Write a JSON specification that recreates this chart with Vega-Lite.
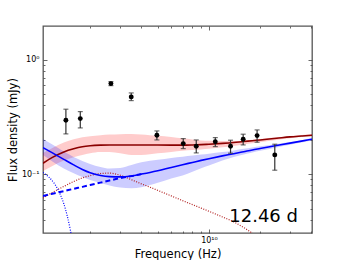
{
  "$schema": "https://vega.github.io/schema/vega-lite/v6.json",
  "width": 269,
  "height": 207,
  "autosize": {"type": "none"},
  "padding": {"left": 43, "top": 26, "right": 34, "bottom": 27},
  "background": "white",
  "config": {
    "view": {"stroke": "#555555", "strokeWidth": 1.3},
    "font": "DejaVu Sans",
    "axis": {"grid": false, "domain": false, "labelFont": "DejaVu Sans", "titleFont": "DejaVu Sans", "labelColor": "black", "titleColor": "black", "tickColor": "#444444", "tickWidth": 0.8, "titleFontWeight": "normal"}
  },
  "datasets": {
    "redBand": [
      {"nu": 1.056e9, "hi": 0.1536, "lo": 0.1069},
      {"nu": 1.2e9, "hi": 0.1698, "lo": 0.1182},
      {"nu": 1.4e9, "hi": 0.1897, "lo": 0.1321},
      {"nu": 1.6e9, "hi": 0.2024, "lo": 0.1409},
      {"nu": 1.8e9, "hi": 0.2108, "lo": 0.1475},
      {"nu": 2.0e9, "hi": 0.2151, "lo": 0.1527},
      {"nu": 2.3e9, "hi": 0.2194, "lo": 0.1567},
      {"nu": 2.6e9, "hi": 0.2221, "lo": 0.1561},
      {"nu": 3.0e9, "hi": 0.2239, "lo": 0.1527},
      {"nu": 3.5e9, "hi": 0.2253, "lo": 0.1475},
      {"nu": 4.0e9, "hi": 0.2221, "lo": 0.1475},
      {"nu": 4.5e9, "hi": 0.2194, "lo": 0.1497},
      {"nu": 5.0e9, "hi": 0.2172, "lo": 0.1524},
      {"nu": 6.0e9, "hi": 0.2120, "lo": 0.1567},
      {"nu": 7.0e9, "hi": 0.2065, "lo": 0.1606},
      {"nu": 8.0e9, "hi": 0.2016, "lo": 0.1625},
      {"nu": 9.0e9, "hi": 0.1975, "lo": 0.1648},
      {"nu": 1.0e10, "hi": 0.1963, "lo": 0.1671},
      {"nu": 1.2e10, "hi": 0.1948, "lo": 0.1722},
      {"nu": 1.4e10, "hi": 0.1948, "lo": 0.1768},
      {"nu": 1.6e10, "hi": 0.1975, "lo": 0.1822},
      {"nu": 1.8e10, "hi": 0.2007, "lo": 0.1863},
      {"nu": 2.0e10, "hi": 0.2036, "lo": 0.1905},
      {"nu": 2.5e10, "hi": 0.2103, "lo": 0.1991},
      {"nu": 3.0e10, "hi": 0.2164, "lo": 0.2061},
      {"nu": 3.5e10, "hi": 0.2207, "lo": 0.2112},
      {"nu": 4.04e10, "hi": 0.2243, "lo": 0.2146}
    ],
    "blueBand": [
      {"nu": 1.056e9, "hi": 0.2036, "lo": 0.1475},
      {"nu": 1.2e9, "hi": 0.1822, "lo": 0.1294},
      {"nu": 1.4e9, "hi": 0.1583, "lo": 0.1124},
      {"nu": 1.6e9, "hi": 0.1417, "lo": 0.1022},
      {"nu": 1.8e9, "hi": 0.1307, "lo": 0.0947},
      {"nu": 2.0e9, "hi": 0.1231, "lo": 0.0891},
      {"nu": 2.3e9, "hi": 0.1159, "lo": 0.0839},
      {"nu": 2.6e9, "hi": 0.1124, "lo": 0.0798},
      {"nu": 3.0e9, "hi": 0.1135, "lo": 0.0766},
      {"nu": 3.5e9, "hi": 0.1206, "lo": 0.0754},
      {"nu": 4.0e9, "hi": 0.1273, "lo": 0.0770},
      {"nu": 4.5e9, "hi": 0.1312, "lo": 0.0806},
      {"nu": 5.0e9, "hi": 0.1339, "lo": 0.0843},
      {"nu": 6.0e9, "hi": 0.1389, "lo": 0.0919},
      {"nu": 7.0e9, "hi": 0.1422, "lo": 0.0976},
      {"nu": 8.0e9, "hi": 0.1457, "lo": 0.1052},
      {"nu": 9.0e9, "hi": 0.1487, "lo": 0.1129},
      {"nu": 1.0e10, "hi": 0.1514, "lo": 0.1194},
      {"nu": 1.2e10, "hi": 0.1561, "lo": 0.1321},
      {"nu": 1.4e10, "hi": 0.1615, "lo": 0.1417},
      {"nu": 1.6e10, "hi": 0.1671, "lo": 0.1490},
      {"nu": 1.8e10, "hi": 0.1715, "lo": 0.1548},
      {"nu": 2.0e10, "hi": 0.1758, "lo": 0.1602},
      {"nu": 2.5e10, "hi": 0.1841, "lo": 0.1715},
      {"nu": 3.0e10, "hi": 0.1916, "lo": 0.1812},
      {"nu": 3.5e10, "hi": 0.1984, "lo": 0.1893},
      {"nu": 4.04e10, "hi": 0.2069, "lo": 0.1980}
    ],
    "redTotal": [
      {"nu": 1.056e9, "flux": 0.1248}, {"nu": 1.2e9, "flux": 0.1403}, {"nu": 1.4e9, "flux": 0.1567},
      {"nu": 1.6e9, "flux": 0.1671}, {"nu": 1.8e9, "flux": 0.1740}, {"nu": 2.0e9, "flux": 0.1775},
      {"nu": 2.3e9, "flux": 0.1797}, {"nu": 2.6e9, "flux": 0.1804}, {"nu": 3.0e9, "flux": 0.1804},
      {"nu": 3.5e9, "flux": 0.1804}, {"nu": 4.0e9, "flux": 0.1804}, {"nu": 4.5e9, "flux": 0.1804},
      {"nu": 5.0e9, "flux": 0.1800}, {"nu": 6.0e9, "flux": 0.1797}, {"nu": 7.0e9, "flux": 0.1797},
      {"nu": 8.0e9, "flux": 0.1804}, {"nu": 9.0e9, "flux": 0.1815}, {"nu": 1.0e10, "flux": 0.1830},
      {"nu": 1.2e10, "flux": 0.1860}, {"nu": 1.4e10, "flux": 0.1893}, {"nu": 1.6e10, "flux": 0.1932},
      {"nu": 1.8e10, "flux": 0.1963}, {"nu": 2.0e10, "flux": 0.1995}, {"nu": 2.5e10, "flux": 0.2061},
      {"nu": 3.0e10, "flux": 0.2120}, {"nu": 3.5e10, "flux": 0.2159}, {"nu": 4.04e10, "flux": 0.2194}
    ],
    "blueTotal": [
      {"nu": 1.056e9, "flux": 0.1709}, {"nu": 1.2e9, "flux": 0.1536}, {"nu": 1.4e9, "flux": 0.1348},
      {"nu": 1.6e9, "flux": 0.1206}, {"nu": 1.8e9, "flux": 0.1101}, {"nu": 2.0e9, "flux": 0.1031},
      {"nu": 2.3e9, "flux": 0.0976}, {"nu": 2.6e9, "flux": 0.0953}, {"nu": 3.0e9, "flux": 0.0947},
      {"nu": 3.5e9, "flux": 0.0966}, {"nu": 4.0e9, "flux": 0.1002}, {"nu": 4.5e9, "flux": 0.1037},
      {"nu": 5.0e9, "flux": 0.1073}, {"nu": 6.0e9, "flux": 0.1147}, {"nu": 7.0e9, "flux": 0.1211},
      {"nu": 8.0e9, "flux": 0.1268}, {"nu": 9.0e9, "flux": 0.1321}, {"nu": 1.0e10, "flux": 0.1367},
      {"nu": 1.2e10, "flux": 0.1446}, {"nu": 1.4e10, "flux": 0.1511}, {"nu": 1.6e10, "flux": 0.1573},
      {"nu": 1.8e10, "flux": 0.1631}, {"nu": 2.0e10, "flux": 0.1678}, {"nu": 2.5e10, "flux": 0.1782},
      {"nu": 3.0e10, "flux": 0.1871}, {"nu": 3.5e10, "flux": 0.1948}, {"nu": 4.04e10, "flux": 0.2024}
    ],
    "blueDashed": [
      {"nu": 1.056e9, "flux": 0.0646}, {"nu": 1.2e9, "flux": 0.0675}, {"nu": 1.4e9, "flux": 0.0711},
      {"nu": 1.6e9, "flux": 0.0745}, {"nu": 1.8e9, "flux": 0.0775}, {"nu": 2.0e9, "flux": 0.0804},
      {"nu": 2.3e9, "flux": 0.0844}, {"nu": 2.6e9, "flux": 0.0881}, {"nu": 3.0e9, "flux": 0.0924},
      {"nu": 3.5e9, "flux": 0.0962}, {"nu": 4.0e9, "flux": 0.1002}
    ],
    "redDotted": [
      {"nu": 1.056e9, "flux": 0.0620}, {"nu": 1.2e9, "flux": 0.0693}, {"nu": 1.4e9, "flux": 0.0782},
      {"nu": 1.6e9, "flux": 0.0863}, {"nu": 1.8e9, "flux": 0.0928}, {"nu": 2.0e9, "flux": 0.0972},
      {"nu": 2.3e9, "flux": 0.1014}, {"nu": 2.6e9, "flux": 0.1022}, {"nu": 3.0e9, "flux": 0.0980},
      {"nu": 3.5e9, "flux": 0.0895}, {"nu": 4.0e9, "flux": 0.0824}, {"nu": 4.5e9, "flux": 0.0770},
      {"nu": 5.0e9, "flux": 0.0722}, {"nu": 6.0e9, "flux": 0.0646}, {"nu": 7.0e9, "flux": 0.0587},
      {"nu": 8.0e9, "flux": 0.0542}, {"nu": 9.0e9, "flux": 0.0505}, {"nu": 1.0e10, "flux": 0.0474},
      {"nu": 1.2e10, "flux": 0.0423}, {"nu": 1.4e10, "flux": 0.0383}, {"nu": 1.6e10, "flux": 0.0342},
      {"nu": 1.8e10, "flux": 0.0305}, {"nu": 2.0e10, "flux": 0.0274}
    ],
    "blueDotted": [
      {"nu": 1.056e9, "flux": 0.1037}, {"nu": 1.4e9, "flux": 0.0551}, {"nu": 2.0e9, "flux": 0.00244}
    ],
    "obs": [
      {"nu": 1.44e9, "flux": 0.2968, "lo": 0.2253, "hi": 0.3705},
      {"nu": 1.75e9, "flux": 0.3065, "lo": 0.2541, "hi": 0.3529},
      {"nu": 2.65e9, "flux": 0.6203, "lo": 0.5957, "hi": 0.6458},
      {"nu": 3.49e9, "flux": 0.4746, "lo": 0.4405, "hi": 0.5143},
      {"nu": 4.94e9, "flux": 0.2194, "lo": 0.1995, "hi": 0.2392},
      {"nu": 7.06e9, "flux": 0.1852, "lo": 0.1675, "hi": 0.2049},
      {"nu": 8.42e9, "flux": 0.1758, "lo": 0.1536, "hi": 0.1995},
      {"nu": 1.09e10, "flux": 0.1928, "lo": 0.1744, "hi": 0.2090},
      {"nu": 1.34e10, "flux": 0.1758, "lo": 0.1527, "hi": 0.1984},
      {"nu": 1.59e10, "flux": 0.2024, "lo": 0.1804, "hi": 0.2239},
      {"nu": 1.92e10, "flux": 0.2176, "lo": 0.1905, "hi": 0.2441},
      {"nu": 2.44e10, "flux": 0.1475, "lo": 0.1084, "hi": 0.1830}
    ],
    "label": [{"nu": 3.34e10, "flux": 0.0383, "text": "12.46 d"}]
  },
  "resolve": {"axis": {"x": "independent", "y": "independent"}},
  "layer": [
    {
      "data": {"name": "redBand"},
      "mark": {"type": "area", "color": "#ff0000", "opacity": 0.2, "interpolate": "monotone", "clip": true},
      "encoding": {
        "x": {"field": "nu", "type": "quantitative", "scale": {"type": "log", "domain": [1.056e9, 4.04e10], "nice": false},
          "axis": {"orient": "bottom", "values": [2e9, 3e9, 4e9, 5e9, 6e9, 7e9, 8e9, 9e9, 1e10, 2e10, 3e10, 4e10],
            "labelExpr": "datum.value == 1e10 ? '10¹⁰' : ''",
            "tickSize": {"condition": {"test": "datum.value == 1e10", "value": -4}, "value": -2},
            "labelPadding": 7, "labelFontSize": 8, "labelFlush": false, "labelOverlap": false,
            "title": "Frequency (Hz)", "titleFontSize": 11.5, "titleY": 24, "titleBaseline": "alphabetic"}},
        "y": {"field": "hi", "type": "quantitative", "scale": {"type": "log", "domain": [0.0306, 1.98], "nice": false},
          "axis": {"orient": "left", "values": [0.04, 0.05, 0.06, 0.07, 0.08, 0.09, 0.1, 0.2, 0.3, 0.4, 0.5, 0.6, 0.7, 0.8, 0.9, 1],
            "labelExpr": "datum.value == 1 ? '10⁰' : (datum.value == 0.1 ? '10⁻¹' : '')",
            "tickSize": {"condition": {"test": "datum.value == 1 || datum.value == 0.1", "value": -4}, "value": -2},
            "labelPadding": 8, "labelFontSize": 8, "labelOverlap": false,
            "title": "Flux density (mJy)", "titleFontSize": 11.5, "titlePadding": 3}},
        "y2": {"field": "lo"}
      }
    },
    {
      "data": {"name": "blueBand"},
      "mark": {"type": "area", "color": "#0000ff", "opacity": 0.2, "interpolate": "monotone", "clip": true},
      "encoding": {
        "x": {"field": "nu", "type": "quantitative", "scale": {"type": "log", "domain": [1.056e9, 4.04e10], "nice": false},
          "axis": {"orient": "top", "values": [2e9, 3e9, 4e9, 5e9, 6e9, 7e9, 8e9, 9e9, 1e10, 2e10, 3e10, 4e10],
            "labels": false, "title": null,
            "tickSize": {"condition": {"test": "datum.value == 1e10", "value": -4}, "value": -2}}},
        "y": {"field": "hi", "type": "quantitative", "scale": {"type": "log", "domain": [0.0306, 1.98], "nice": false},
          "axis": {"orient": "right", "values": [0.04, 0.05, 0.06, 0.07, 0.08, 0.09, 0.1, 0.2, 0.3, 0.4, 0.5, 0.6, 0.7, 0.8, 0.9, 1],
            "labels": false, "title": null,
            "tickSize": {"condition": {"test": "datum.value == 1 || datum.value == 0.1", "value": -4}, "value": -2}}},
        "y2": {"field": "lo"}
      }
    },
    {
      "data": {"name": "redDotted"},
      "mark": {"type": "line", "color": "#b22222", "strokeWidth": 1.2, "strokeDash": [1, 1.5], "interpolate": "monotone", "clip": true},
      "encoding": {
        "x": {"field": "nu", "type": "quantitative", "scale": {"type": "log", "domain": [1.056e9, 4.04e10], "nice": false}, "axis": null},
        "y": {"field": "flux", "type": "quantitative", "scale": {"type": "log", "domain": [0.0306, 1.98], "nice": false}, "axis": null}
      }
    },
    {
      "data": {"name": "blueDotted"},
      "mark": {"type": "line", "color": "#0000ff", "strokeWidth": 1.2, "strokeDash": [1, 1.5], "interpolate": "monotone", "clip": true},
      "encoding": {
        "x": {"field": "nu", "type": "quantitative", "scale": {"type": "log", "domain": [1.056e9, 4.04e10], "nice": false}, "axis": null},
        "y": {"field": "flux", "type": "quantitative", "scale": {"type": "log", "domain": [0.0306, 1.98], "nice": false}, "axis": null}
      }
    },
    {
      "data": {"name": "blueDashed"},
      "mark": {"type": "line", "color": "#0000ff", "strokeWidth": 2, "strokeDash": [5, 3], "interpolate": "monotone", "clip": true},
      "encoding": {
        "x": {"field": "nu", "type": "quantitative", "scale": {"type": "log", "domain": [1.056e9, 4.04e10], "nice": false}, "axis": null},
        "y": {"field": "flux", "type": "quantitative", "scale": {"type": "log", "domain": [0.0306, 1.98], "nice": false}, "axis": null}
      }
    },
    {
      "data": {"name": "redTotal"},
      "mark": {"type": "line", "color": "#8b0000", "strokeWidth": 1.6, "interpolate": "monotone", "clip": true},
      "encoding": {
        "x": {"field": "nu", "type": "quantitative", "scale": {"type": "log", "domain": [1.056e9, 4.04e10], "nice": false}, "axis": null},
        "y": {"field": "flux", "type": "quantitative", "scale": {"type": "log", "domain": [0.0306, 1.98], "nice": false}, "axis": null}
      }
    },
    {
      "data": {"name": "blueTotal"},
      "mark": {"type": "line", "color": "#0000ff", "strokeWidth": 1.6, "interpolate": "monotone", "clip": true},
      "encoding": {
        "x": {"field": "nu", "type": "quantitative", "scale": {"type": "log", "domain": [1.056e9, 4.04e10], "nice": false}, "axis": null},
        "y": {"field": "flux", "type": "quantitative", "scale": {"type": "log", "domain": [0.0306, 1.98], "nice": false}, "axis": null}
      }
    },
    {
      "data": {"name": "obs"},
      "mark": {"type": "errorbar", "ticks": true, "size": 5, "thickness": 1.2, "color": "#333333"},
      "encoding": {
        "x": {"field": "nu", "type": "quantitative", "scale": {"type": "log", "domain": [1.056e9, 4.04e10], "nice": false}, "axis": null},
        "y": {"field": "lo", "type": "quantitative", "scale": {"type": "log", "domain": [0.0306, 1.98], "nice": false}, "axis": null},
        "y2": {"field": "hi"}
      }
    },
    {
      "data": {"name": "obs"},
      "mark": {"type": "circle", "color": "black", "size": 24, "opacity": 1},
      "encoding": {
        "x": {"field": "nu", "type": "quantitative", "scale": {"type": "log", "domain": [1.056e9, 4.04e10], "nice": false}, "axis": null},
        "y": {"field": "flux", "type": "quantitative", "scale": {"type": "log", "domain": [0.0306, 1.98], "nice": false}, "axis": null}
      }
    },
    {
      "data": {"name": "label"},
      "mark": {"type": "text", "align": "right", "baseline": "alphabetic", "fontSize": 18, "font": "DejaVu Sans", "color": "black"},
      "encoding": {
        "x": {"field": "nu", "type": "quantitative", "scale": {"type": "log", "domain": [1.056e9, 4.04e10], "nice": false}, "axis": null},
        "y": {"field": "flux", "type": "quantitative", "scale": {"type": "log", "domain": [0.0306, 1.98], "nice": false}, "axis": null},
        "text": {"field": "text"}
      }
    }
  ]
}
